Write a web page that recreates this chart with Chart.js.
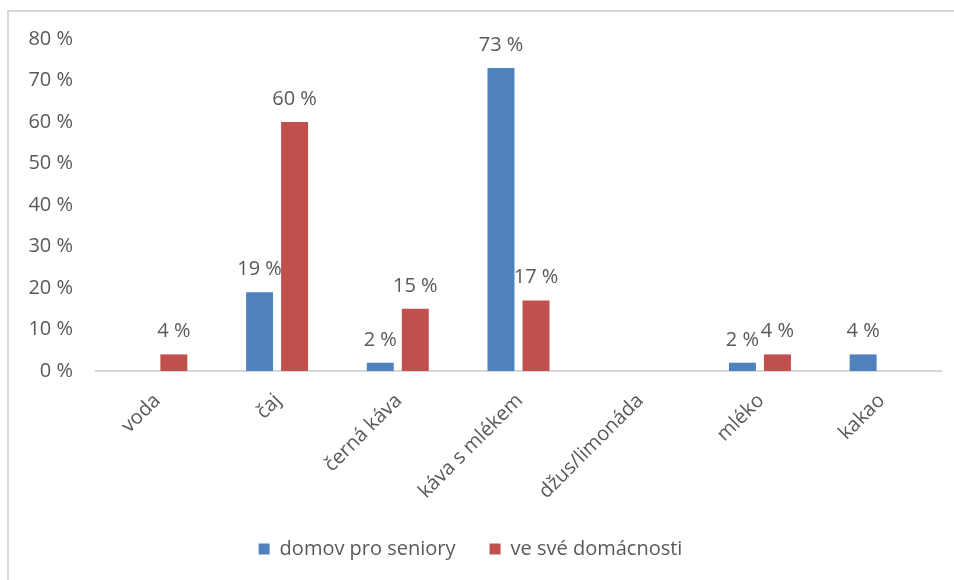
<!DOCTYPE html>
<html lang="cs">
<head>
<meta charset="utf-8">
<title>Nápoje</title>
<script src="https://cdn.jsdelivr.net/npm/chart.js@4/dist/chart.umd.min.js"></script>
<style>
    body {
        margin: 0;
        background: #ffffff;
    }
    .chartBox {
        position: relative;
        width: 954px;
        height: 580px;
    }
    .chartFrame {
        position: absolute;
        left: 7px;
        top: 10px;
        right: 0;
        bottom: 0;
        border-top: 2px solid #d9d9d9;
        border-left: 2px solid #d9d9d9;
        pointer-events: none;
    }
</style>
</head>
<body>
<div class="chartBox">
    <canvas id="napoje" width="954" height="580"></canvas>
    <div class="chartFrame"></div>
</div>
<script>
const categories = ["voda", "čaj", "černá káva", "káva s mlékem", "džus/limonáda", "mléko", "kakao"];
const domovProSeniory = [0, 19, 2, 73, 0, 2, 4];
const veSveDomacnosti = [4, 60, 15, 17, 0, 4, 0];
const yTicks = [0, 10, 20, 30, 40, 50, 60, 70, 80];

const textColor = "#595959";
const fontFamily = "'Open Sans', 'DejaVu Sans', sans-serif";
const fontSize = 20;

// percent labels above every non-zero bar
const barValueLabels = {
    id: "barValueLabels",
    afterDatasetsDraw(chart) {
        const ctx = chart.ctx;
        ctx.save();
        ctx.font = fontSize + "px " + fontFamily;
        ctx.fillStyle = textColor;
        ctx.textAlign = "center";
        ctx.textBaseline = "alphabetic";
        chart.data.datasets.forEach((ds, i) => {
            const meta = chart.getDatasetMeta(i);
            meta.data.forEach((bar, j) => {
                const v = ds.data[j];
                if (!v) return;
                ctx.fillText(v + " %", bar.x, bar.y - 17);
            });
        });
        ctx.restore();
    }
};

function createGraphic(canvas) {
    const config = {
        type: "bar",
        data: {
            labels: categories,
            datasets: [
                {
                    label: "domov pro seniory",
                    data: domovProSeniory,
                    backgroundColor: "#4f81bd"
                },
                {
                    label: "ve své domácnosti",
                    data: veSveDomacnosti,
                    backgroundColor: "#c0504d"
                }
            ]
        },
        options: {
            responsive: false,
            animation: false,
            categoryPercentage: 0.58,
            barPercentage: 0.77,
            layout: {
                padding: { top: 39, right: 13, bottom: 11, left: 0 }
            },
            plugins: {
                legend: {
                    position: "bottom",
                    labels: {
                        color: textColor,
                        font: { family: fontFamily, size: fontSize },
                        boxWidth: 11,
                        boxHeight: 11,
                        padding: 34
                    }
                },
                tooltip: { enabled: false }
            },
            scales: {
                x: {
                    grid: { display: false, drawTicks: false },
                    border: { display: true, color: "#d9d9d9", width: 2 },
                    ticks: {
                        color: textColor,
                        font: { family: fontFamily, size: fontSize },
                        autoSkip: false,
                        minRotation: 45,
                        maxRotation: 45,
                        padding: 18,
                        labelOffset: 1
                    },
                    afterFit(scale) {
                        scale.height = 134;
                    }
                },
                y: {
                    min: 0,
                    max: 80,
                    grid: { display: false, drawTicks: false },
                    border: { display: false },
                    afterBuildTicks(scale) {
                        scale.ticks = yTicks.map((v) => ({ value: v }));
                    },
                    ticks: {
                        color: textColor,
                        font: { family: fontFamily, size: fontSize },
                        padding: 23,
                        callback: (v) => v + " %"
                    },
                    afterFit(scale) {
                        scale.width = 96;
                    }
                }
            }
        },
        plugins: [barValueLabels]
    };

    return new Chart(document.getElementById(canvas), config);
}

createGraphic("napoje");
</script>
</body>
</html>
